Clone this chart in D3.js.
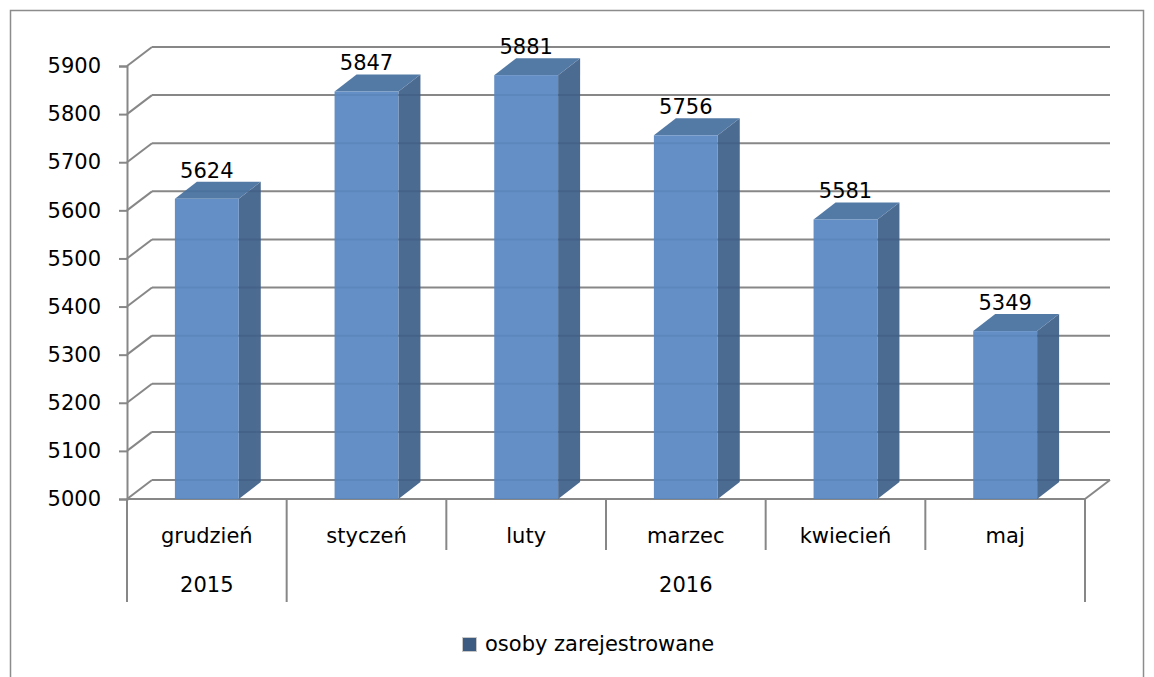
<!DOCTYPE html>
<html>
<head>
<meta charset="utf-8">
<script src="https://cdn.jsdelivr.net/npm/d3@7"></script>
<style>
  html, body { margin: 0; padding: 0; background: #fff; }
  svg { display: block; }
  text { font-family: "DejaVu Sans", sans-serif; font-size: 21px; fill: #000; }
</style>
</head>
<body>
<svg id="chart" width="1154" height="677"></svg>
<script>
// ---- data ----
const categories = ["grudzień", "styczeń", "luty", "marzec", "kwiecień", "maj"];
const values = [5624, 5847, 5881, 5756, 5581, 5349];
const years = [
  { label: "2015", from: 0, to: 0 },
  { label: "2016", from: 1, to: 5 }
];
const yTicks = [5000, 5100, 5200, 5300, 5400, 5500, 5600, 5700, 5800, 5900];
const seriesName = "osoby zarejestrowane";

// ---- layout ----
const svg = d3.select("#chart");
const plotLeft = 127, plotRight = 1085, plotBottom = 499, plotTop = 66;
const wallDx = 25, wallDy = -19;   // depth of back wall
const barDx = 22, barDy = -17;     // depth of bars
const gridColor = "#878787";

const y = d3.scaleLinear().domain([5000, 5900]).range([plotBottom, plotTop]);
const xCat = d3.scaleBand().domain(categories).range([plotLeft, plotRight]).padding(0);
const xBar = d3.scaleBand().domain(categories).range([plotLeft, plotRight])
  .paddingInner(0.6).paddingOuter(0.3);

// outer frame
svg.append("rect").attr("x", 10.5).attr("y", 10.5).attr("width", 1133).attr("height", 700)
  .attr("fill", "none").attr("stroke", "#8c8c8c").attr("stroke-width", 1.5);

// back wall gridlines + left wall diagonals
const grid = svg.append("g");
yTicks.forEach(t => {
  const yy = y(t);
  grid.append("line")
    .attr("x1", plotLeft + wallDx).attr("x2", plotRight + wallDx)
    .attr("y1", yy + wallDy).attr("y2", yy + wallDy)
    .attr("stroke", gridColor).attr("stroke-width", 2);
  grid.append("line")
    .attr("x1", plotLeft).attr("y1", yy)
    .attr("x2", plotLeft + wallDx).attr("y2", yy + wallDy)
    .attr("stroke", gridColor).attr("stroke-width", 2);
});
// floor right diagonal
grid.append("line")
  .attr("x1", plotRight).attr("y1", y(5000))
  .attr("x2", plotRight + wallDx).attr("y2", y(5000) + wallDy)
  .attr("stroke", gridColor).attr("stroke-width", 2);

// y axis (front)
const yAxis = d3.axisLeft(y).tickValues(yTicks).tickSize(8).tickPadding(18)
  .tickFormat(d3.format("d"));
const ya = svg.append("g").attr("transform", `translate(${plotLeft},0)`).call(yAxis);
ya.select(".domain").attr("stroke", gridColor).attr("stroke-width", 2);
ya.selectAll(".tick line").attr("stroke", gridColor).attr("stroke-width", 2);
ya.selectAll(".tick text").style("font-family", "DejaVu Sans").style("font-size", "21px")
  .attr("fill", "#000");

// front floor edge
svg.append("line").attr("x1", plotLeft).attr("x2", plotRight)
  .attr("y1", y(5000)).attr("y2", y(5000))
  .attr("stroke", gridColor).attr("stroke-width", 2);

// bars
const bars = svg.append("g");
categories.forEach((c, i) => {
  const v = values[i];
  const x0 = xBar(c), w = xBar.bandwidth();
  const y0 = y(5000), y1 = y(v);
  const g = bars.append("g").attr("opacity", 0.93);
  g.append("path")
    .attr("d", `M${x0 + w},${y1} L${x0 + w + barDx},${y1 + barDy} L${x0 + w + barDx},${y0 + barDy} L${x0 + w},${y0} Z`)
    .attr("fill", "#3f6089");
  g.append("path")
    .attr("d", `M${x0},${y1} L${x0 + barDx},${y1 + barDy} L${x0 + w + barDx},${y1 + barDy} L${x0 + w},${y1} Z`)
    .attr("fill", "#47709f");
  g.append("rect").attr("x", x0).attr("y", y1).attr("width", w).attr("height", y0 - y1)
    .attr("fill", "#5887c2");
  svg.append("text").attr("x", x0 + w / 2).attr("y", y1 + barDy - 4)
    .attr("text-anchor", "middle").text(v);
});

// category separators and labels
const sep = svg.append("g");
categories.forEach((c, i) => {
  const xx = xCat(c);
  const isYearBoundary = years.some(yr => yr.from === i);
  sep.append("line").attr("x1", xx).attr("x2", xx)
    .attr("y1", y(5000)).attr("y2", isYearBoundary ? 602 : 550)
    .attr("stroke", gridColor).attr("stroke-width", 2);
  svg.append("text").attr("x", xx + xCat.bandwidth() / 2).attr("y", 543)
    .attr("text-anchor", "middle").text(c);
});
sep.append("line").attr("x1", plotRight).attr("x2", plotRight)
  .attr("y1", y(5000)).attr("y2", 602)
  .attr("stroke", gridColor).attr("stroke-width", 2);

// year labels
years.forEach(yr => {
  const x1 = xCat(categories[yr.from]);
  const x2 = xCat(categories[yr.to]) + xCat.bandwidth();
  svg.append("text").attr("x", (x1 + x2) / 2).attr("y", 592)
    .attr("text-anchor", "middle").text(yr.label);
});

// legend
svg.append("rect").attr("x", 462.5).attr("y", 637.5).attr("width", 14).attr("height", 14)
  .attr("fill", "#3d5a80").attr("stroke", "#c8c8c8").attr("stroke-width", 1);
svg.append("text").attr("x", 485).attr("y", 651).text(seriesName);
</script>
</body>
</html>
